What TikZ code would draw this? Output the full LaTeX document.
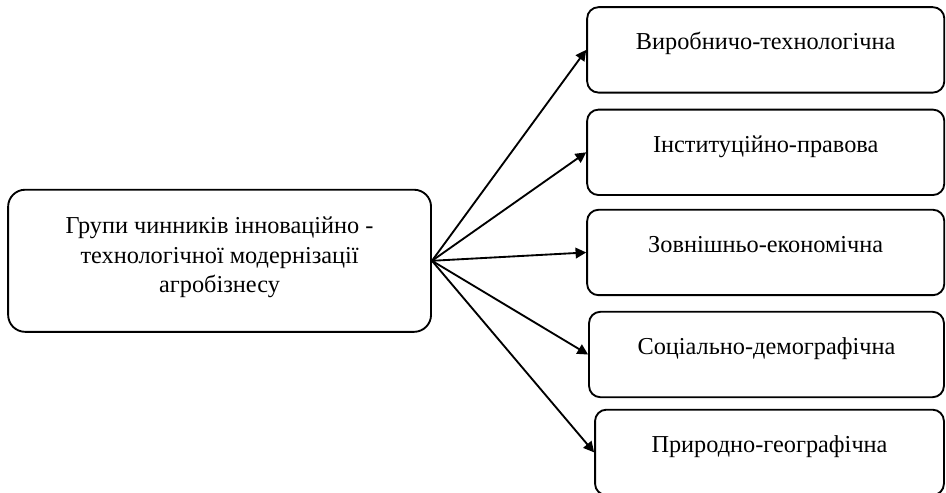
\documentclass[tikz,border=0pt]{standalone}
\usepackage{fontspec}
\setmainfont{Liberation Serif}
\usepackage{tikz}
\usetikzlibrary{arrows.meta}
\tikzstyle{every node}=[font=\fontsize{18.3}{22.5}\selectfont]
\tikzstyle{groupbox}=[draw,line width=1.4pt,rounded corners=0.45cm,align=center,text height=2.3cm,text depth=0.6cm]
\tikzstyle{factorbox}=[draw,line width=1.4pt,rounded corners=0.3cm,minimum height=2.26cm,text height=0.35cm,text depth=0.35cm]

\begin{document}
\begin{tikzpicture}[line cap=round,line join=round,>={Triangle[length=8pt,width=8pt]},x=1.0cm,y=1.0cm]
            \useasboundingbox (0,0) rectangle (25.03,13.04);
            \node[groupbox,minimum width=11.19cm,minimum height=3.76cm] (grupy) at (5.81,6.14) {Групи чинників інноваційно -\\технологічної модернізації\\агробізнесу};
            \node[factorbox,minimum width=9.45cm] (vyrobnycha) at (20.26,11.72) {Виробничо-технологічна};
            \node[factorbox,minimum width=9.45cm] (instytutsiina) at (20.26,9.01) {Інституційно-правова};
            \node[factorbox,minimum width=9.45cm] (zovnishnia) at (20.26,6.36) {Зовнішньо-економічна};
            \node[factorbox,minimum width=9.39cm] (sotsialna) at (20.28,3.66) {Соціально-демографічна};
            \node[factorbox,minimum width=9.23cm] (pryrodna) at (20.36,1.07) {Природно-географічна};
            \draw [->,line width=1.4pt] (grupy.east) -- (vyrobnycha.west);
            \draw [->,line width=1.4pt] (grupy.east) -- (instytutsiina.west);
            \draw [->,line width=1.4pt] (grupy.east) -- (zovnishnia.west);
            \draw [->,line width=1.4pt] (grupy.east) -- (sotsialna.west);
            \draw [->,line width=1.4pt] (grupy.east) -- (pryrodna.west);
        \end{tikzpicture}
\end{document}
